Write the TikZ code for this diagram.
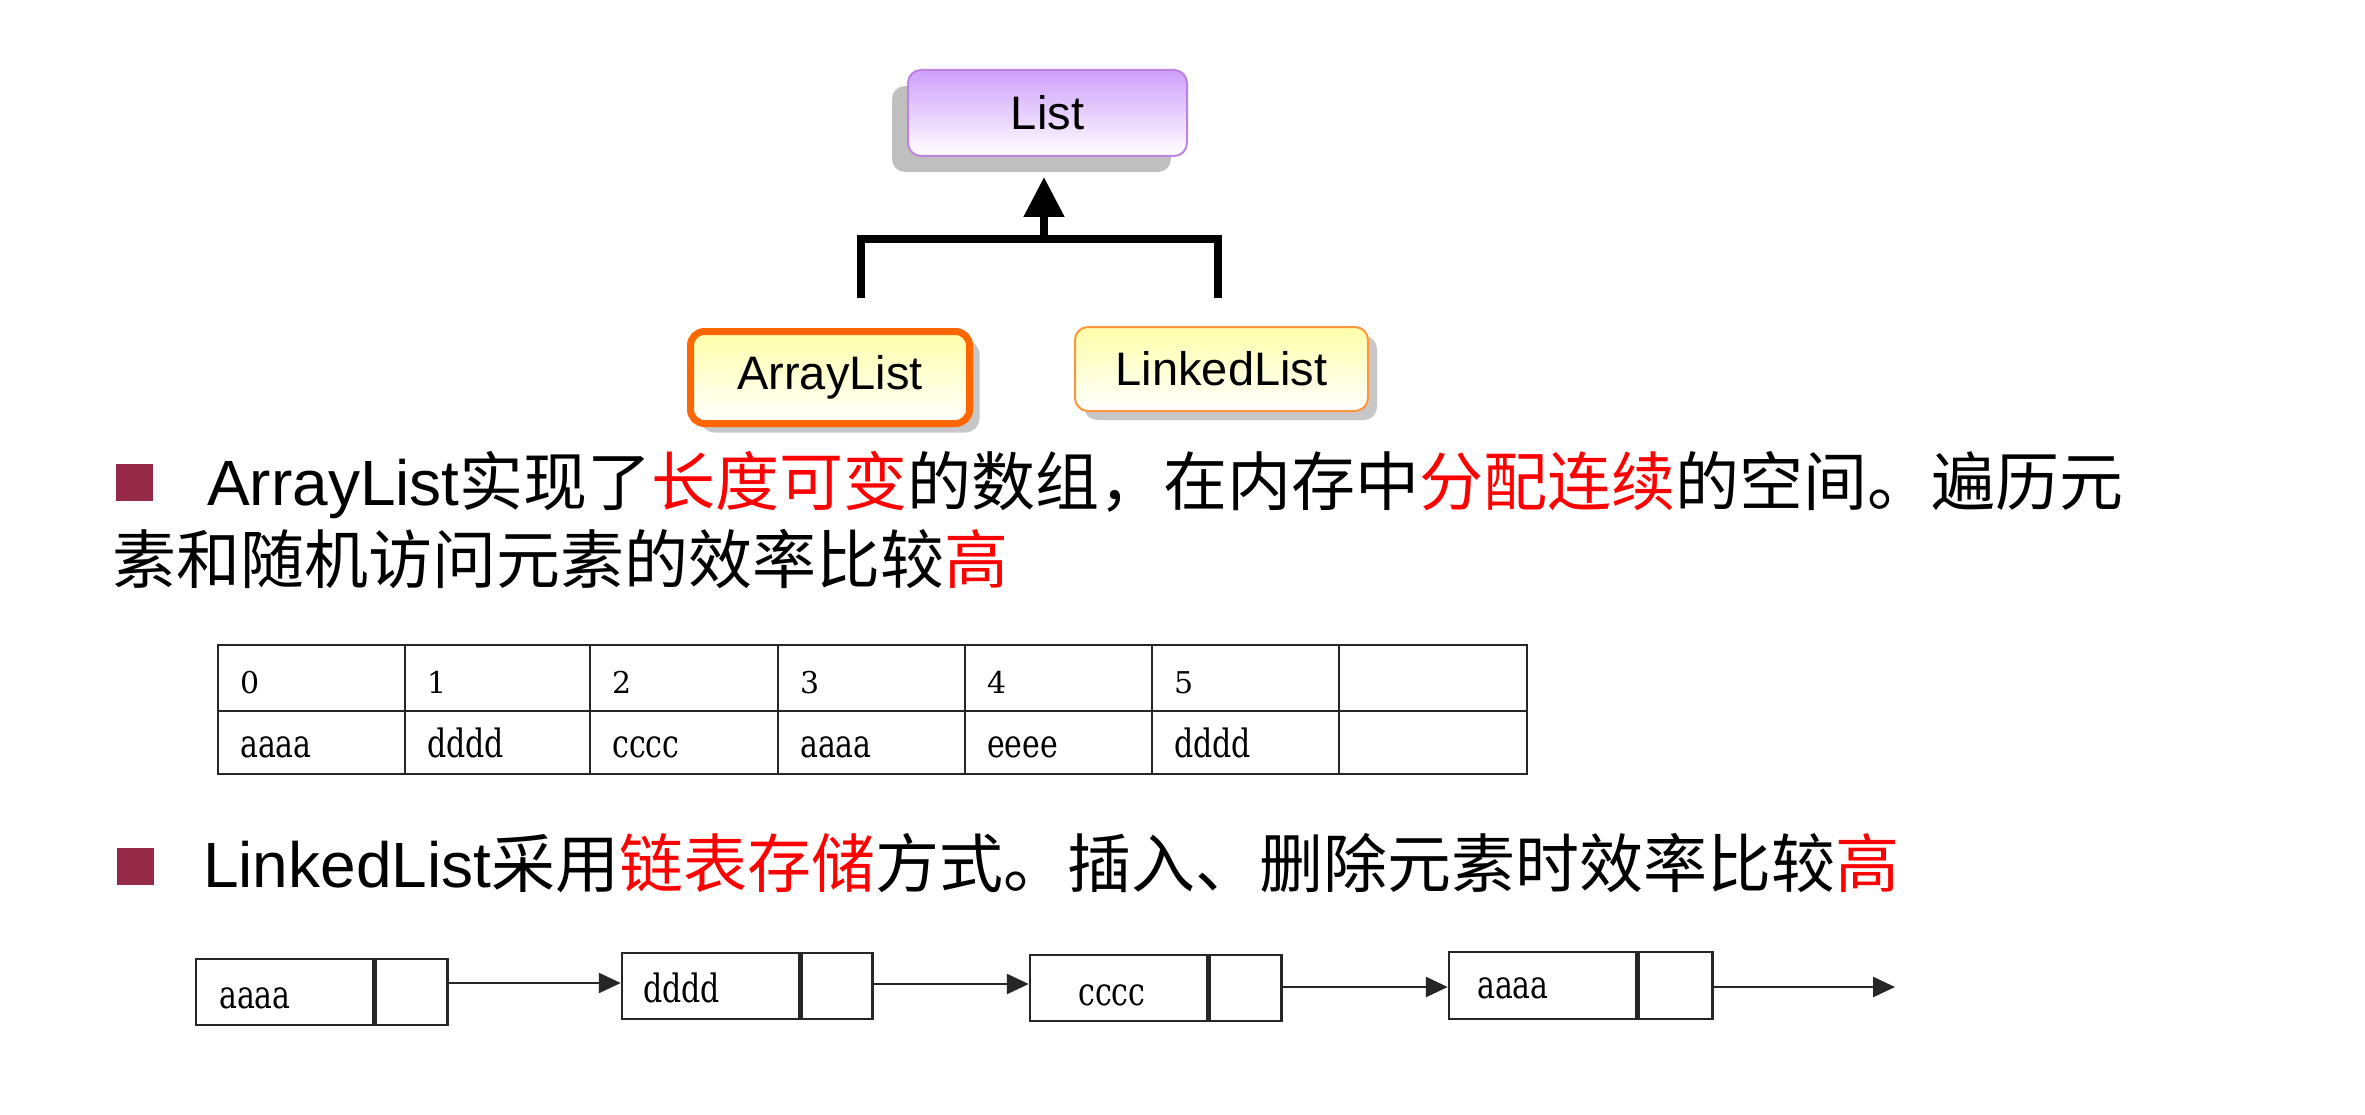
\documentclass[tikz,border=0pt]{standalone}
\usepackage{fontspec}
\setmainfont{Liberation Sans}
\newfontfamily\cjk{Noto Sans CJK SC}
\newfontfamily\tabfont{DejaVu Serif}
\usetikzlibrary{arrows.meta,shadows}
\definecolor{bulletc}{RGB}{150,40,72}
\definecolor{listtop}{RGB}{206,160,250}
\definecolor{listborder}{RGB}{190,130,225}
\definecolor{yeltop}{RGB}{255,255,170}
\definecolor{orangethick}{RGB}{255,102,0}
\definecolor{orangethin}{RGB}{255,150,60}
\newcommand{\tallword}[1]{\scalebox{1}[1.3]{#1}}
\begin{document}
\begin{tikzpicture}[x=1pt,y=-1pt,
  uml/.style={rectangle, inner sep=0pt, text=black, font=\fontsize{47}{47}\selectfont},
  listbox/.style={uml, rounded corners=13pt, minimum width=279pt, minimum height=86pt,
     draw=listborder, line width=2pt, top color=listtop, bottom color=white,
     drop shadow={shadow xshift=-16pt, shadow yshift=-16pt, fill=black!25, opacity=1}},
  albox/.style={uml, rounded corners=14pt, minimum width=279pt, minimum height=92pt,
     draw=orangethick, line width=7pt, top color=yeltop, bottom color=white,
     drop shadow={shadow xshift=10pt, shadow yshift=-9pt, fill=black!22, opacity=1}},
  llbox/.style={uml, rounded corners=13pt, minimum width=293pt, minimum height=84pt,
     draw=orangethin, line width=2pt, top color=yeltop, bottom color=white,
     drop shadow={shadow xshift=9pt, shadow yshift=-9pt, fill=black!22, opacity=1}},
  tree/.style={line width=8pt, line join=miter, black},
  bsq/.style={rectangle, fill=bulletc, inner sep=0pt, minimum width=37pt, minimum height=37pt},
  txt/.style={anchor=base west, inner sep=0pt, font=\fontsize{64}{64}\selectfont},
  grid/.style={line width=2.5pt, black!85},
  cell/.style={anchor=base west, inner sep=0pt, font=\tabfont\fontsize{30}{30}\selectfont},
  lnode/.style={rectangle, draw=black!85, line width=2.5pt, inner sep=0pt},
  link/.style={line width=2.5pt, black!85, -{Triangle[length=22pt,width=20pt]}}
]
\useasboundingbox (0,0) rectangle (2365,1115);
\fill[white] (0,0) rectangle (2365,1115);

% ---- class hierarchy ----
\node[listbox] (L) at (1047.5,113) {List};
\node[albox] (AL) at (830,377.5) {ArrayList};
\node[llbox] (LL) at (1221.5,369) {LinkedList};
\coordinate (c1) at (861,298);
\coordinate (c2) at (1218,298);
\coordinate (j) at (1044,239);
\coordinate (tip) at (1044,177);
\draw[tree] (c1) |- (j) -| (c2);
\draw[tree, -{Triangle[length=40pt,width=39pt]}] (j) -- (tip);

% ---- bullet 1 ----
\node[bsq] (b1) at (134.5,482) {};
\node[txt] (t1) at (207,505) {ArrayList\cjk 实现了\textcolor{red}{长度可变}的数组，在内存中\textcolor{red}{分配连续}的空间。遍历元};
\node[txt] (t2) at (112,583) {\cjk 素和随机访问元素的效率比较\textcolor{red}{高}};

% ---- array table ----
\draw[grid] (218,645) rectangle (1527,774);
\draw[grid] (218,711) -- (1527,711);
\foreach \x in {405,590,778,965,1152,1339} \draw[grid] (\x,645) -- (\x,774);
\foreach \x/\a/\b [count=\i] in {218/0/aaaa,405/1/dddd,590/2/cccc,778/3/aaaa,965/4/eeee,1152/5/dddd}{
  \node[cell] (h\i) at (\x+22,693) {\a};
  \node[cell] (v\i) at (\x+22,757) {\tallword{\b}};
}

% ---- bullet 2 ----
\node[bsq] (b2) at (135.5,866.5) {};
\node[txt] (t3) at (203,887) {LinkedList\cjk 采用\textcolor{red}{链表存储}方式。插入、删除元素时效率比较\textcolor{red}{高}};

% ---- linked list ----
\node[lnode, minimum width=177pt, minimum height=66pt] (n1d) at (284.5,992) {};
\node[lnode, minimum width=72pt, minimum height=66pt, anchor=west] (n1p) at (n1d.east) {};
\node[lnode, minimum width=177pt, minimum height=66pt] (n2d) at (710.5,986) {};
\node[lnode, minimum width=71pt, minimum height=66pt, anchor=west] (n2p) at (n2d.east) {};
\node[lnode, minimum width=177pt, minimum height=66pt] (n3d) at (1118.5,988) {};
\node[lnode, minimum width=72pt, minimum height=66pt, anchor=west] (n3p) at (n3d.east) {};
\node[lnode, minimum width=187pt, minimum height=67pt] (n4d) at (1542.5,985.5) {};
\node[lnode, minimum width=74pt, minimum height=67pt, anchor=west] (n4p) at (n4d.east) {};
\node[cell] (d1) at (219,1008) {\tallword{aaaa}};
\node[cell] (d2) at (643,1002) {\tallword{dddd}};
\node[cell] (d3) at (1078,1005) {\tallword{cccc}};
\node[cell] (d4) at (1477,998) {\tallword{aaaa}};
\coordinate (endp) at (1895,987);
\draw[link] ([yshift=9pt]n1p.east) -- ([yshift=9pt]n1p.east -| n2d.west);
\draw[link] ([yshift=2pt]n2p.east) -- ([yshift=2pt]n2p.east -| n3d.west);
\draw[link] ([yshift=1pt]n3p.east) -- ([yshift=1pt]n3p.east -| n4d.west);
\draw[link] (n4p.east |- endp) -- (endp);
\end{tikzpicture}
\end{document}
